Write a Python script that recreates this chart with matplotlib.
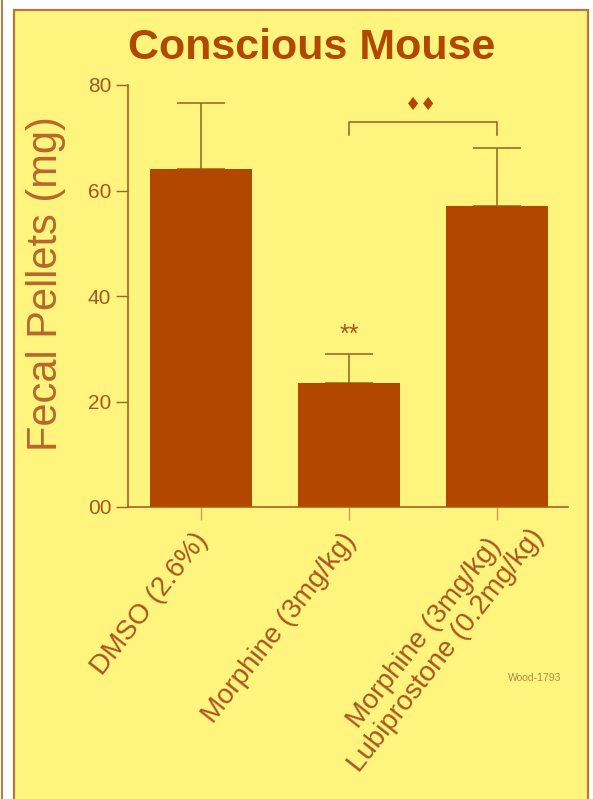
import matplotlib
matplotlib.use('Agg')
import matplotlib.pyplot as plt
from matplotlib.patches import Rectangle
from matplotlib.lines import Line2D
import matplotlib.transforms as mtransforms
import numpy as np

# data
groups = ['DMSO (2.6%)', 'Morphine (3mg/kg)', 'Morphine (3mg/kg)\nLubiprostone (0.2mg/kg)']
means = [64, 23.5, 57]
errs = [12.5, 5.5, 11]
yticks = [0, 20, 40, 60, 80]

bg = '#FFF57E'
bar_col = '#B24800'
err_col = '#A06C1C'
axis_col = '#A8601E'
txt_col = '#A8561E'

fig = plt.figure(figsize=(5.93, 7.99), dpi=100, facecolor='white')

# yellow panel with border, and the thin line at the left edge
fig.patches.append(Rectangle((14 / 593, -0.01), 574 / 593, 1 - 10 / 799 + 0.01,
                             transform=fig.transFigure, facecolor=bg,
                             edgecolor='#B8763A', lw=1.6, zorder=-5))
fig.lines.append(Line2D([2 / 593, 2 / 593], [0, 1], transform=fig.transFigure,
                        color='#B08050', lw=1.5, zorder=-5))

ax = fig.add_axes([128 / 593, 1 - 507 / 799, 440 / 593, 422 / 799])
ax.set_facecolor('none')

x = np.arange(len(groups))
ax.bar(x, means, width=0.69, color=bar_col, zorder=2)
ax.errorbar(x, means, yerr=[np.zeros(len(errs)), errs], fmt='none',
            ecolor=err_col, elinewidth=1.2, capsize=17, capthick=1.2, zorder=1)

ax.set_xlim(-0.493, 2.48)
ax.set_ylim(0, 80)
for s in ['top', 'right']:
    ax.spines[s].set_visible(False)
for s in ['left', 'bottom']:
    ax.spines[s].set_color(axis_col)
    ax.spines[s].set_linewidth(1.2)

ax.set_yticks(yticks)
ax.set_yticklabels(['%02d' % v for v in yticks], fontfamily='Liberation Sans',
                   fontsize=15, color=txt_col)
ax.tick_params(axis='y', length=9, width=1, color=axis_col, pad=3)
ax.tick_params(axis='x', length=9, width=1, color='#C8A050', pad=4)

ax.set_xticks(x)
ax.set_xticklabels(groups, rotation=52, ha='right', va='top', rotation_mode='anchor',
                   multialignment='center', fontfamily='Liberation Sans',
                   fontsize=20, color=txt_col, linespacing=1.1)
# nudge labels; the two-line one sits with its first line at the tick
shifts = [(-0.08, -0.03), (-0.08, -0.03), (0.1, 0.18)]
for lab, (dx, dy) in zip(ax.get_xticklabels(), shifts):
    lab.set_transform(lab.get_transform() + mtransforms.ScaledTranslation(dx, dy, fig.dpi_scale_trans))

ax.set_ylabel('Fecal Pellets (mg)', fontfamily='Liberation Sans', fontsize=30,
              color='#B8672A')
ax.yaxis.set_label_coords(-0.14, 0.53)

# significance marks
ax.text(1, 32.6, '**', ha='center', va='center', fontsize=18, color=txt_col,
        fontfamily='Liberation Sans')
ax.plot([1, 1, 2, 2], [70.6, 73, 73, 70.6], color=err_col, lw=1.2, clip_on=False)
ax.text(1.49, 76.3, '\u2666\u2666', ha='center', va='center', fontsize=13,
        color=bar_col, fontfamily='DejaVu Sans')

fig.text(312 / 593, 1 - 48 / 799, 'Conscious Mouse', ha='center', va='center',
         fontfamily='Liberation Sans', fontweight='bold', fontsize=31,
         color='#B04800')
fig.text(535 / 593, 1 - 678 / 799, 'Wood-1793', ha='center', va='center',
         fontfamily='Liberation Sans', fontsize=7.5, color='#B08A40')

fig.savefig('out.png', dpi=100, facecolor='white')
